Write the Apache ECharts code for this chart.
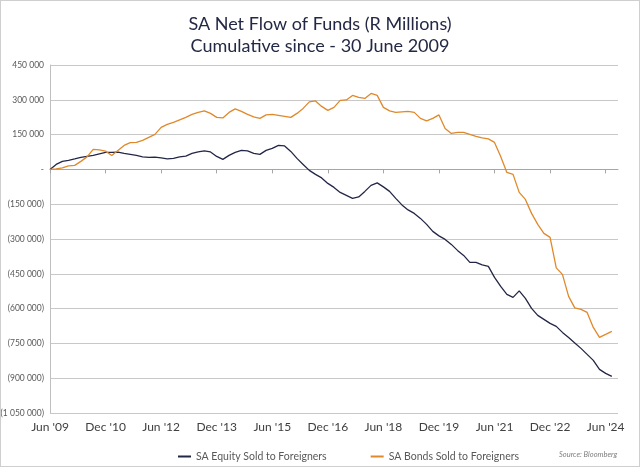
<!DOCTYPE html>
<html>
<head>
<meta charset="utf-8">
<script src="https://cdn.jsdelivr.net/npm/echarts@6/dist/echarts.min.js"></script>
<style>
html,body{margin:0;padding:0;background:#fff;}
#wrap{position:relative;width:640px;height:467px;}
#chart{width:640px;height:467px;}
#frame{position:absolute;left:0;top:0;width:640px;height:467px;box-sizing:border-box;border:1px solid #cfcfcf;pointer-events:none;}
</style>
</head>
<body>
<div id="wrap"><div id="chart"></div><div id="frame"></div></div>
<script>
// months since 30 June 2009 (2-month steps)
const months = [0,2,4,6,8,10,12,14,16,18,20,22,24,26,28,30,32,34,36,38,40,42,44,46,48,50,52,54,56,58,60,62,64,66,68,70,72,74,76,78,80,82,84,86,88,90,92,94,96,98,100,102,104,106,108,110,112,114,116,118,120,122,124,126,128,130,132,134,136,138,140,142,144,146,148,150,152,154,156,158,160,162,164,166,168,170,172,174,176,178,180,182];

const equity = [0,21500,34500,38800,45000,51700,56000,60300,66800,73300,73300,74600,69000,64700,60300,53900,51700,53000,49600,45300,47400,53900,57300,69000,75400,79700,75400,56000,43100,60300,73300,81900,79700,69000,64700,81900,90500,103400,101300,77600,47400,21500,-4300,-21500,-36600,-60300,-77600,-99100,-112000,-125000,-118500,-94800,-69000,-58200,-75400,-94800,-125000,-153000,-174600,-189600,-211200,-237000,-267200,-286600,-301700,-323300,-349100,-370700,-400900,-400900,-411600,-418100,-465500,-504300,-538800,-551700,-523700,-556000,-599100,-629300,-646500,-663700,-676700,-702500,-724100,-747800,-771500,-797400,-823200,-862000,-879200,-892200];

const bonds = [0,2000,6500,15000,17200,34500,53900,86200,84000,78900,60300,81900,103400,115000,116400,125000,137900,150900,181000,194000,202600,213300,224100,237000,245700,252100,241400,224100,222000,245700,260700,250000,237000,226300,219800,234900,237000,232700,228400,224100,241400,262900,290900,295200,271500,254300,267200,297400,299500,318900,310300,306000,327600,318900,267200,252100,245700,247800,250000,245700,219800,209000,219800,234900,176700,155200,159500,159500,150900,142200,135800,131500,116400,56000,-12900,-21500,-99100,-129300,-189600,-237000,-275800,-293100,-424500,-452600,-547400,-596900,-603400,-616300,-681000,-724100,-711200,-698200];

const xTickValues = [0,18,36,54,72,90,108,126,144,162,180];
const xTickLabels = ["Jun '09","Dec '10","Jun '12","Dec '13","Jun '15","Dec '16","Jun '18","Dec '19","Jun '21","Dec '22","Jun '24"];

const seriesNames = ['SA Equity Sold to Foreigners','SA Bonds Sold to Foreigners'];

function fmtNum(n){
  return String(n).replace(/\B(?=(\d{3})+(?!\d))/g,' ');
}
function yFmt(v){
  if (v === 0) return '-';
  if (v < 0) return '(' + fmtNum(-v) + ')';
  return fmtNum(v);
}

const chart = echarts.init(document.getElementById('chart'), null, {renderer:'canvas'});
const FONT = 'Lato';
chart.setOption({
  backgroundColor:'#ffffff',
  animation:false,
  title:{
    text:'SA Net Flow of Funds (R Millions)\nCumulative since - 30 June 2009',
    left:'center', top:8,
    textStyle:{fontFamily:FONT,fontSize:18,fontWeight:'normal',color:'#232845',lineHeight:22}
  },
  grid:{left:50,right:22,top:65,bottom:54,containLabel:false,outerBoundsMode:'none'},
  xAxis:[{
    type:'value', min:0, max:184,
    axisLine:{show:true,onZero:true,lineStyle:{color:'#a6a6a6',width:1}},
    axisTick:{show:true,length:4,inside:false,customValues:xTickValues,lineStyle:{color:'#a6a6a6'}},
    axisLabel:{show:false},
    splitLine:{show:false}
  },{
    type:'value', min:0, max:184, position:'bottom',
    axisLine:{show:false,onZero:false},
    axisTick:{show:false},
    axisLabel:{show:true,customValues:xTickValues,margin:8,
      formatter:function(v){const i=xTickValues.indexOf(v);return i>=0?xTickLabels[i]:'';},
      fontFamily:FONT,fontSize:12,color:'#404040'},
    splitLine:{show:false}
  }],
  yAxis:{
    type:'value', min:-1050000, max:450000, interval:150000,
    axisLine:{show:true,lineStyle:{color:'#bfbfbf'}},
    axisTick:{show:false},
    axisLabel:{formatter:yFmt,fontFamily:FONT,fontSize:8.5,color:'#595959',margin:6},
    splitLine:{show:true,lineStyle:{color:'#c8c8c8',width:1}}
  },
  legend:{
    data:seriesNames,
    left:173, top:446,
    icon:'rect', itemWidth:13, itemHeight:2, itemGap:44, itemStyle:{borderWidth:0},
    textStyle:{fontFamily:FONT,fontSize:10.5,color:'#595959'}
  },
  graphic:[{
    type:'text', left:559, top:451,
    style:{text:'Source: Bloomberg',fontFamily:FONT,fontSize:7.5,fontStyle:'italic',fill:'#7f7f7f'}
  }],
  series:[{
    name:seriesNames[0], type:'line', xAxisIndex:0, showSymbol:false,
    data:months.map((m,i)=>[m,equity[i]]),
    lineStyle:{color:'#232747',width:1.3}, itemStyle:{color:'#232747'}
  },{
    name:seriesNames[1], type:'line', xAxisIndex:0, showSymbol:false,
    data:months.map((m,i)=>[m,bonds[i]]),
    lineStyle:{color:'#e0892b',width:1.3}, itemStyle:{color:'#e0892b'}
  }]
});
</script>
</body>
</html>
